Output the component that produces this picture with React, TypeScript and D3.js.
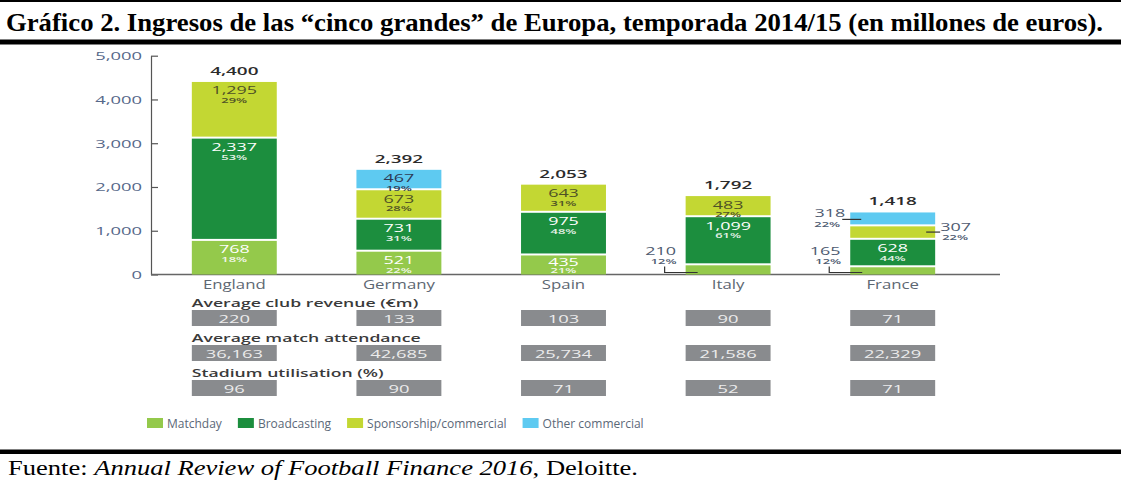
import React, { useRef, useEffect } from "react";
import * as d3 from "d3";

// values (2014/15, EUR m)
const countries = ["England", "Germany", "Spain", "Italy", "France"];
const matchday = [768, 521, 435, 210, 165];
const broadcasting = [2337, 731, 975, 1099, 628];
const sponsorship = [1295, 673, 643, 483, 307];
const otherCommercial = [0, 467, 0, 0, 318];
const matchdayPct = ["18%", "22%", "21%", "12%", "12%"];
const broadcastingPct = ["53%", "31%", "48%", "61%", "44%"];
const sponsorshipPct = ["29%", "28%", "31%", "27%", "22%"];
const otherPct = ["", "19%", "", "", "22%"];
const totals = [4400, 2392, 2053, 1792, 1418];
const avgRevenue = [220, 133, 103, 90, 71];
const avgAttendance = [36163, 42685, 25734, 21586, 22329];
const stadiumUtil = [96, 90, 71, 52, 71];
const yTicks = [0, 1000, 2000, 3000, 4000, 5000];

const seriesKeys = ["matchday", "broadcasting", "sponsorship", "other"];
const seriesNames = ["Matchday", "Broadcasting", "Sponsorship/commercial", "Other commercial"];
const seriesColors = ["#94c94b", "#1c8e3e", "#c3d733", "#5ecaf1"];
const valueColors = ["#ffffff", "#ffffff", "#4f5226", "#2d3a55"];
const pctColors = ["#f2f7ea", "#e6f2e8", "#4f5226", "#2d3a55"];

const title = "Gráfico 2. Ingresos de las \u201ccinco grandes\u201d de Europa, temporada 2014/15 (en millones de euros).";

const W = 1121;
const H = 483;
const FONT = "'Open Sans', sans-serif";

function txt(g: any, x: number, y: number, s: string, o: any) {
    return g.append("text")
        .attr("transform", "translate(" + x + "," + y + ") scale(" + (o.sx || 1) + ",1)")
        .attr("text-anchor", o.anchor || "middle")
        .attr("font-family", o.family || FONT)
        .attr("font-size", o.size)
        .attr("font-weight", o.weight || 400)
        .attr("fill", o.fill || "#333")
        .text(s);
}

const App = () => {
    const svgRef = useRef<SVGSVGElement>(null);

    useEffect(() => {
        const svg = d3.select(svgRef.current);
        svg.selectAll("*").remove();

        // frame lines + title
        svg.append("rect").attr("x", 0).attr("y", 0).attr("width", W).attr("height", 2).attr("fill", "#000");
        svg.append("rect").attr("x", 0).attr("y", 39.5).attr("width", W).attr("height", 5).attr("fill", "#000");
        svg.append("rect").attr("x", 0).attr("y", 449.5).attr("width", W).attr("height", 4.5).attr("fill", "#000");
        svg.append("text").attr("x", 6).attr("y", 31)
            .attr("font-family", "'Liberation Serif', 'Times New Roman', serif")
            .attr("font-weight", 700).attr("font-size", 25)
            .attr("textLength", 1097).attr("lengthAdjust", "spacingAndGlyphs")
            .text(title);
        const src = svg.append("text").attr("x", 8).attr("y", 475)
            .attr("font-family", "'Liberation Serif', 'Times New Roman', serif")
            .attr("font-size", 21).attr("fill", "#000")
            .attr("textLength", 630).attr("lengthAdjust", "spacingAndGlyphs");
        src.append("tspan").text("Fuente: ");
        src.append("tspan").attr("font-style", "italic").text("Annual Review of Football Finance 2016");
        src.append("tspan").text(", Deloitte.");

        const yScale = d3.scaleLinear().domain([0, 5000]).range([274.5, 55.7]);
        const xScale = d3.scaleBand().domain(countries).range([152, 975]).paddingInner(0.484).paddingOuter(0.242);
        const bw = xScale.bandwidth();
        const base = yScale(0);

        // y axis
        const yAxis = d3.axisLeft(yScale).tickValues(yTicks).tickSize(-7).tickSizeOuter(0).tickFormat(d3.format(","));
        const ag = svg.append("g").attr("transform", "translate(151,0)").call(yAxis);
        ag.select(".domain").attr("stroke", "#555").attr("stroke-width", 1.2);
        ag.selectAll(".tick line").attr("stroke", "#555").attr("stroke-width", 1.2);
        ag.selectAll(".tick text")
            .attr("x", 0).attr("dy", "0.36em")
            .attr("transform", "translate(-9,0) scale(1.75,1)")
            .attr("font-family", FONT).attr("font-size", 10.5).attr("fill", "#56688a");

        // baseline
        svg.append("line").attr("x1", 151).attr("x2", 1000).attr("y1", base).attr("y2", base)
            .attr("stroke", "#666").attr("stroke-width", 1.5);

        const rows = countries.map((c, i) => ({
            country: c,
            matchday: matchday[i],
            broadcasting: broadcasting[i],
            sponsorship: sponsorship[i],
            other: otherCommercial[i]
        }));
        const pcts = [matchdayPct, broadcastingPct, sponsorshipPct, otherPct];
        const stacked = d3.stack<any>().keys(seriesKeys)(rows);

        stacked.forEach((layer, k) => {
            const lg = svg.append("g");
            layer.forEach((d, i) => {
                const v = d[1] - d[0];
                if (v <= 0) return;
                const x0 = xScale(countries[i]) as number;
                const top = yScale(d[1]);
                const bot = yScale(d[0]);
                const h = bot - top - (d[0] > 0 ? 2 : 0);
                lg.append("rect").attr("x", x0).attr("y", top).attr("width", bw).attr("height", h)
                    .attr("fill", seriesColors[k]);
                const cx = x0 + bw / 2;
                const label = d3.format(",")(v);
                if (h >= 16) {
                    // keep percent above the x axis on short bottom segments
                    const squeeze = top + 21 > base - 1.5 ? 1.5 : 0;
                    txt(lg, cx, top + 12.5 - squeeze, label, { size: 11.2, sx: 1.6, fill: valueColors[k] });
                    txt(lg, cx, Math.min(top + 21, base - 1.5), pcts[k][i], { size: 6.8, sx: 1.9, fill: pctColors[k], weight: 600 });
                } else if (k === 0) {
                    // small bottom segment: label to the lower left with elbow line
                    const lx = x0 - 21;
                    lg.append("path")
                        .attr("d", "M" + lx + "," + (base - 8) + "V" + (base - 2) + "H" + (x0 + 12))
                        .attr("fill", "none").attr("stroke", "#333").attr("stroke-width", 1.2);
                    txt(lg, lx - 4, base - 19.5, label, { size: 11.2, sx: 1.6, fill: "#4d5a70" });
                    txt(lg, lx - 1, base - 11, pcts[k][i], { size: 6.8, sx: 1.9, fill: "#4d5a70", weight: 600 });
                } else if (k === 2) {
                    // right-hand callout
                    const my = (top + bot - 2) / 2;
                    lg.append("line").attr("x1", x0 + bw - 9).attr("x2", x0 + bw + 5).attr("y1", my).attr("y2", my)
                        .attr("stroke", "#333").attr("stroke-width", 1.2);
                    txt(lg, x0 + bw + 5, my - 1.4, label, { size: 11.2, sx: 1.6, fill: "#4d5a70", anchor: "start" });
                    txt(lg, x0 + bw + 7, my + 7.6, pcts[k][i], { size: 6.8, sx: 1.9, fill: "#4d5a70", weight: 600, anchor: "start" });
                } else {
                    // left-hand callout
                    const my = (top + bot) / 2;
                    lg.append("line").attr("x1", x0 - 8).attr("x2", x0 + 11).attr("y1", my).attr("y2", my)
                        .attr("stroke", "#333").attr("stroke-width", 1.2);
                    txt(lg, x0 - 5, my - 2.7, label, { size: 11.2, sx: 1.6, fill: "#4d5a70", anchor: "end" });
                    txt(lg, x0 - 10, my + 7.3, pcts[k][i], { size: 6.8, sx: 1.9, fill: "#4d5a70", weight: 600, anchor: "end" });
                }
            });
        });

        // totals + country names
        countries.forEach((c, i) => {
            const cx = (xScale(c) as number) + bw / 2;
            txt(svg, cx, yScale(totals[i]) - 7, d3.format(",")(totals[i]), { size: 10.8, sx: 1.75, fill: "#2b2b2b", weight: 600 });
            txt(svg, cx, 289, c, { size: 12, sx: 1.4, fill: "#5d6772" });
        });

        // statistics table
        const tables = [
            { head: "Average club revenue (\u20acm)", vals: avgRevenue, y: 310 },
            { head: "Average match attendance", vals: avgAttendance, y: 345 },
            { head: "Stadium utilisation (%)", vals: stadiumUtil, y: 380 }
        ];
        const x0 = xScale(countries[0]) as number;
        tables.forEach((t) => {
            txt(svg, x0, t.y - 3.5, t.head, { size: 10.5, sx: 1.68, fill: "#3a3a3a", weight: 600, anchor: "start" });
            t.vals.forEach((v, i) => {
                const bx = xScale(countries[i]) as number;
                svg.append("rect").attr("x", bx).attr("y", t.y).attr("width", bw).attr("height", 16).attr("fill", "#898b8e");
                txt(svg, bx + bw / 2, t.y + 12.5, d3.format(",")(v), { size: 10.5, sx: 1.75, fill: "#ececec" });
            });
        });

        // legend
        let cur = 147;
        seriesNames.forEach((n, k) => {
            svg.append("rect").attr("x", cur).attr("y", 418).attr("width", 16).attr("height", 10).attr("fill", seriesColors[k]);
            const t = svg.append("text").attr("x", cur + 20).attr("y", 428)
                .attr("font-family", FONT).attr("font-size", 12).attr("fill", "#5b6878").text(n);
            const w = (t.node() as SVGTextElement).getComputedTextLength();
            cur = cur + 20 + w + 16;
        });
    }, []);

    return (
        <div className="chart">
            <svg ref={svgRef} width={W} height={H}
                style={{ position: "absolute", left: 0, top: 0, background: "#fff" }}>
            </svg>
        </div>
    );
};

export default App;
